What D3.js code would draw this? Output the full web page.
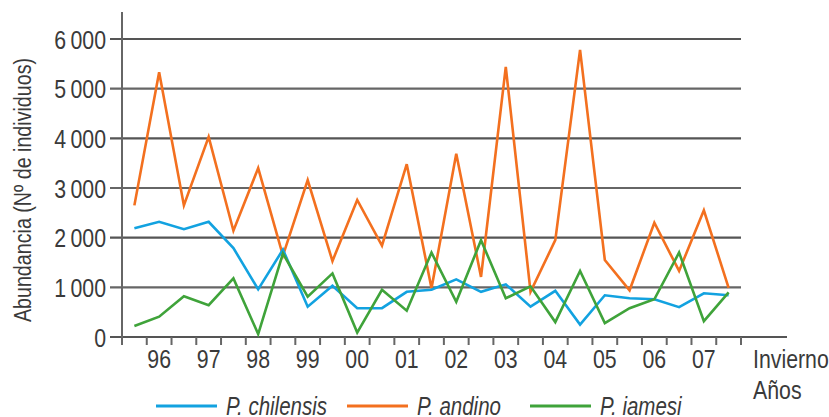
<!DOCTYPE html>
<html><head><meta charset="utf-8">
<script src="https://cdn.jsdelivr.net/npm/d3@7"></script>
<style>
html,body{margin:0;padding:0;background:#fff;}
svg{display:block;font-family:"Liberation Sans",Arial,sans-serif;}
</style></head>
<body><svg id="chart" width="829" height="417"></svg>
<script>
// 25 winter samples, labelled by year every second slot
const yearLabels = ["96","97","98","99","00","01","02","03","04","05","06","07"];
const chilensis = [2190,2320,2170,2320,1790,960,1760,610,1030,580,580,910,950,1160,910,1060,610,930,250,840,780,760,600,880,840];
const andino    = [2650,5330,2650,4030,2140,3400,1640,3160,1530,2760,1840,3480,980,3690,1210,5440,910,1950,5780,1550,940,2300,1330,2550,990];
const iamesi    = [220,410,820,640,1180,60,1680,810,1280,90,950,530,1700,710,1950,780,1020,300,1330,280,580,760,1700,320,900];
const yTicks = [0,1000,2000,3000,4000,5000,6000];
const yTickLabels = ["0","1\u2009000","2\u2009000","3\u2009000","4\u2009000","5\u2009000","6\u2009000"];
const seriesNames = ["P. chilensis","P. andino","P. iamesi"];
const seriesColors = ["#12a2e0","#f3701f","#3fa33a"];

const svg = d3.select("#chart");
const SX = 0.82;
function label(g, px, py, str, opt) {
  opt = opt || {};
  const t = g.append("text")
    .attr("transform", `translate(${px},${py}) ${opt.rot ? "rotate(" + opt.rot + ") " : ""}scale(${SX},1)`)
    .attr("font-size", opt.size || 26)
    .attr("fill", "#3a3a3a")
    .attr("text-anchor", opt.anchor || "start")
    .text(str);
  if (opt.italic) t.attr("font-style", "italic");
  return t;
}

const idx = d3.range(chilensis.length);
const x = d3.scaleBand().domain(idx).range([122, 741]).padding(0);
const y = d3.scaleLinear().domain([0, 6000]).range([337, 39]);

// gridlines
svg.append("g").selectAll("line").data(yTicks).join("line")
  .attr("x1", 110).attr("x2", d => d === 0 ? 787 : 741)
  .attr("y1", d => y(d)).attr("y2", d => y(d))
  .attr("stroke", (d,i) => i % 2 === 0 ? "#555" : "#666")
  .attr("stroke-width", 2.2);

// y axis line
svg.append("line").attr("x1",122).attr("x2",122).attr("y1",12).attr("y2",345)
  .attr("stroke","#666").attr("stroke-width",2);

// x ticks at band boundaries
const bounds = idx.map(i => x(i)).concat([x.range()[1]]);
svg.append("g").selectAll("line").data(bounds.slice(1)).join("line")
  .attr("x1", d => d).attr("x2", d => d).attr("y1", 337).attr("y2", 345)
  .attr("stroke","#666").attr("stroke-width",2);

// y tick labels
const gy = svg.append("g");
yTicks.forEach((d, i) => label(gy, 106, y(d) + 9.5, yTickLabels[i], {anchor: "end"}));

// x labels (years at odd slots)
const gx = svg.append("g");
yearLabels.forEach((d, i) => label(gx, x(2*i+1) + x.bandwidth()/2, 368, d, {anchor: "middle"}));

label(svg, 753, 368, "Invierno");
label(svg, 753, 399, "Años");

// y title
label(svg, 31, 190, "Abundancia (Nº de individuos)", {rot: -90, anchor: "middle", size: 24});

// lines
const line = d3.line().x((d,i) => x(i) + x.bandwidth()/2).y(d => y(d));
const order = [andino, chilensis, iamesi];
const orderColors = [seriesColors[1], seriesColors[0], seriesColors[2]];
order.forEach((s, k) => {
  svg.append("path").datum(s).attr("d", line).attr("fill","none")
    .attr("stroke", orderColors[k]).attr("stroke-width", 2.6).attr("stroke-linejoin","miter");
});

// legend
const legX = [156, 347, 530];
const lg = svg.append("g");
seriesNames.forEach((n, i) => {
  lg.append("line").attr("x1", legX[i]).attr("x2", legX[i] + 61).attr("y1", 406).attr("y2", 406)
    .attr("stroke", seriesColors[i]).attr("stroke-width", 3);
  label(lg, legX[i] + 70, 415, n, {italic: true, size: 25});
});
</script></body></html>
